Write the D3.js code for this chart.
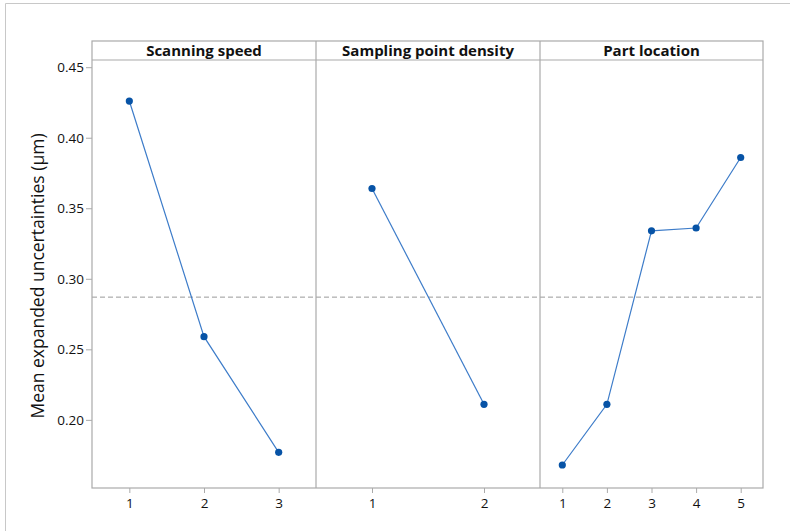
<!DOCTYPE html>
<html>
<head>
<meta charset="utf-8">
<script src="https://cdn.jsdelivr.net/npm/d3@7"></script>
<style>
  body { margin: 0; background: #fff; }
  svg text { font-family: "Open Sans", "Noto Sans", sans-serif; }
</style>
</head>
<body>
<script>
// panel titles and levels
var factors = ["Scanning speed", "Sampling point density", "Part location"];
var levels = [[1, 2, 3], [1, 2], [1, 2, 3, 4, 5]];
// mean expanded uncertainty per level
var scanningSpeed = [0.426, 0.259, 0.177];
var samplingDensity = [0.364, 0.211];
var partLocation = [0.168, 0.211, 0.334, 0.336, 0.386];
var grandMean = 0.287;
var yTicks = [0.20, 0.25, 0.30, 0.35, 0.40, 0.45];

var series = [scanningSpeed, samplingDensity, partLocation];

var W = 790, H = 531;
var pLeft = 92, pRight = 763, pTop = 41, headH = 19, pBottom = 488;

var svg = d3.select("body").append("svg")
    .attr("width", W).attr("height", H);

// outer frame (cropped)
svg.append("path")
    .attr("d", "M5.5," + H + "V3.5H" + W)
    .attr("fill", "none").attr("stroke", "#c8c8c8").attr("stroke-width", 1);

var y = d3.scaleLinear().domain([0.1517, 0.4551]).range([pBottom, pTop + headH]);

// panel edges
var edges = [pLeft, pLeft + 224, pLeft + 448, pRight];

var g = svg.append("g");

// grand mean dashed line
g.append("line")
    .attr("x1", pLeft).attr("x2", pRight)
    .attr("y1", y(grandMean)).attr("y2", y(grandMean))
    .attr("stroke", "#999").attr("stroke-dasharray", "5,3").attr("stroke-width", 1);

factors.forEach(function (f, i) {
  var x0 = edges[i], x1 = edges[i + 1];
  var lv = levels[i];
  var x = d3.scaleLinear().domain([0.5, lv.length + 0.5]).range([x0, x1]);

  // header strip
  g.append("text")
      .attr("x", (x0 + x1) / 2).attr("y", pTop + 15)
      .attr("text-anchor", "middle")
      .style("font-size", "15px").style("font-weight", "bold")
      .attr("fill", "#111")
      .text(f);

  // x axis
  var ax = g.append("g")
      .attr("transform", "translate(0," + pBottom + ")")
      .call(d3.axisBottom(x).tickValues(lv).tickSize(5).tickSizeOuter(0).tickFormat(d3.format("d")));
  ax.select(".domain").remove();
  ax.selectAll("line").attr("stroke", "#aaa");
  ax.selectAll("text").attr("fill", "#111").style("font-size", "13.5px").attr("y", 6).attr("dy", "1em");

  var pts = lv.map(function (l, k) { return [l, series[i][k]]; });

  g.append("path")
      .datum(pts)
      .attr("fill", "none")
      .attr("stroke", "#3d7cc9")
      .attr("stroke-width", 1.2)
      .attr("d", d3.line().x(function (d) { return x(d[0]); }).y(function (d) { return y(d[1]); }));

  g.selectAll(null)
      .data(pts).enter().append("circle")
      .attr("cx", function (d) { return x(d[0]); })
      .attr("cy", function (d) { return y(d[1]); })
      .attr("r", 3.6)
      .attr("fill", "#0753a6");
});

// panel borders
g.append("rect")
    .attr("x", pLeft).attr("y", pTop).attr("width", pRight - pLeft).attr("height", pBottom - pTop)
    .attr("fill", "none").attr("stroke", "#aaa").attr("stroke-width", 1.2);
g.append("line")
    .attr("x1", pLeft).attr("x2", pRight).attr("y1", pTop + headH).attr("y2", pTop + headH)
    .attr("stroke", "#aaa").attr("stroke-width", 1.2);
[edges[1], edges[2]].forEach(function (e) {
  g.append("line").attr("x1", e).attr("x2", e).attr("y1", pTop).attr("y2", pBottom)
      .attr("stroke", "#aaa").attr("stroke-width", 1.2);
});

// y axis
var ay = g.append("g")
    .attr("transform", "translate(" + pLeft + ",0)")
    .call(d3.axisLeft(y).tickValues(yTicks).tickSize(6).tickFormat(d3.format(".2f")));
ay.select(".domain").remove();
ay.selectAll("line").attr("stroke", "#aaa");
ay.selectAll("text").attr("fill", "#111").style("font-size", "13.5px").attr("x", -8);

svg.append("text")
    .attr("transform", "translate(44,276) rotate(-90)")
    .attr("text-anchor", "middle")
    .style("font-size", "17.5px")
    .attr("fill", "#111")
    .text("Mean expanded uncertainties (μm)");
</script>
</body>
</html>
